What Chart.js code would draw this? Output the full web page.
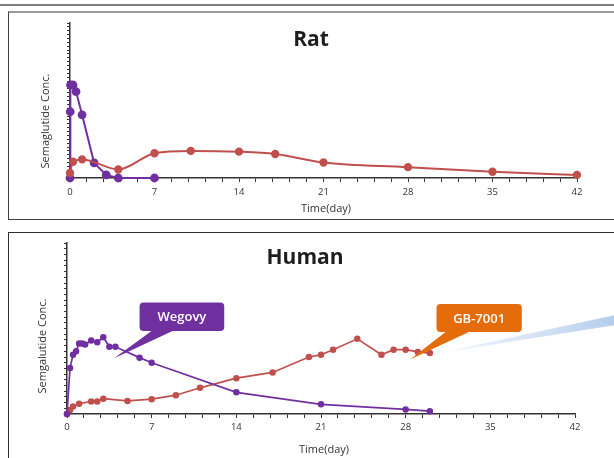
<!DOCTYPE html>
<html>
<head>
<meta charset="utf-8">
<script src="https://cdn.jsdelivr.net/npm/chart.js@4.4.1/dist/chart.umd.min.js"></script>
<style>
body{margin:0;background:#fff;width:614px;height:458px;overflow:hidden;position:relative;font-family:"Open Sans",sans-serif;}
.rule{position:absolute;left:0;top:4px;width:614px;height:2px;background:#7f7f7f;}
.panel{position:absolute;left:8px;width:640px;box-sizing:border-box;}
#p1{top:11px;height:209px;border-top:2px solid #9a9a9a;border-left:1px solid #404040;border-bottom:1px solid #404040;}
#p2{top:232px;height:240px;border-top:1px solid #303030;border-left:1px solid #303030;}
.box{position:absolute;left:9px;width:605px;}
#b1{top:12px;height:206px;}
#b2{top:233px;height:225px;}
</style>
</head>
<body>
<div class="rule"></div>
<div class="panel" id="p1"></div>
<div class="panel" id="p2"></div>
<div class="box" id="b1"><canvas id="ratChart"></canvas></div>
<div class="box" id="b2"><canvas id="humanChart"></canvas></div>
<script>
// x axis labels (days)
var dayTicks = [0, 7, 14, 21, 28, 35, 42];

// Rat
var ratWegovyDays = [0, 0.02, 0.04, 0.25, 0.5, 1, 2, 3, 4, 7];
var ratWegovyConc = [0, 17.1, 24.0, 24.0, 22.3, 16.3, 3.9, 0.8, 0, 0];
var ratGbDays = [0, 0.25, 1, 4, 7, 10, 14, 17, 21, 28, 35, 42];
var ratGbConc = [1.3, 4.2, 4.8, 2.2, 6.4, 7.0, 6.8, 6.2, 4.0, 2.8, 1.6, 0.8];

// Human
var humanWegovyDays = [0, 0.25, 0.5, 0.75, 1, 1.25, 1.5, 2, 2.5, 3, 3.5, 4, 6, 7, 14, 21, 28, 30];
var humanWegovyConc = [0, 8.1, 10.4, 11.0, 12.4, 12.4, 12.2, 12.9, 12.6, 13.5, 11.8, 11.8, 9.9, 9.0, 3.8, 1.7, 0.8, 0.5];
var humanGbDays = [0, 0.25, 0.5, 1, 2, 2.5, 3, 5, 7, 9, 11, 14, 17, 20, 21, 22, 24, 26, 27, 28, 29, 30];
var humanGbConc = [0, 0.7, 1.3, 1.8, 2.2, 2.2, 2.7, 2.3, 2.6, 3.3, 4.6, 6.3, 7.3, 10.0, 10.4, 11.3, 13.2, 10.4, 11.3, 11.3, 10.9, 10.7];

var purple = "#7030a0";
var red = "#c0504d";
var orange = "#e46c0a";

function pairs(xs, ys) {
  return xs.map(function (x, i) { return { x: x, y: ys[i] }; });
}

var textPlugin = {
  id: "texts",
  afterDatasetsDraw: function (chart, args, o) {
    var ctx = chart.ctx, xs = chart.scales.x, ys = chart.scales.y;
    ctx.save();
    if (o.wedge) {
      var w = o.wedge;
      var x0 = xs.getPixelForValue(w.from[0]), y0 = ys.getPixelForValue(w.from[1]);
      var x1 = xs.getPixelForValue(w.toX);
      var g = ctx.createLinearGradient(x0, 0, x1, 0);
      g.addColorStop(0, "rgba(198,217,241,0.2)");
      g.addColorStop(1, "rgba(180,204,236,1)");
      ctx.fillStyle = g;
      ctx.beginPath();
      ctx.moveTo(x0, y0);
      ctx.lineTo(x1, ys.getPixelForValue(w.toTop));
      ctx.lineTo(x1, ys.getPixelForValue(w.toBottom));
      ctx.closePath();
      ctx.fill();
    }
    (o.callouts || []).forEach(function (c) {
      var l = xs.getPixelForValue(c.box[0]), r = xs.getPixelForValue(c.box[1]);
      var t = ys.getPixelForValue(c.box[2]), b = ys.getPixelForValue(c.box[3]);
      ctx.fillStyle = c.color;
      ctx.beginPath();
      ctx.roundRect(l, t, r - l, b - t, 4);
      ctx.fill();
      ctx.beginPath();
      ctx.moveTo(xs.getPixelForValue(c.base[0]), b - 1);
      ctx.lineTo(xs.getPixelForValue(c.base[1]), b - 1);
      ctx.lineTo(xs.getPixelForValue(c.tip[0]), ys.getPixelForValue(c.tip[1]));
      ctx.closePath();
      ctx.fill();
      ctx.fillStyle = "#fff";
      ctx.font = "600 13px 'Open Sans'";
      ctx.textAlign = "center";
      ctx.textBaseline = "middle";
      ctx.fillText(c.text, (l + r) / 2, (t + b) / 2 + 1);
    });
    ctx.restore();
  },
  afterDraw: function (chart, args, o) {
    var ctx = chart.ctx;
    ctx.save();
    ctx.textAlign = "center";
    ctx.textBaseline = "middle";
    ctx.fillStyle = "#1e1e1e";
    ctx.font = "bold 21px 'Open Sans'";
    ctx.fillText(o.title, o.titlePos[0], o.titlePos[1]);
    ctx.fillStyle = "#333";
    ctx.font = "11px 'Open Sans'";
    ctx.fillText("Time(day)", o.xTitlePos[0], o.xTitlePos[1]);
    ctx.translate(o.yTitlePos[0], o.yTitlePos[1]);
    ctx.rotate(-Math.PI / 2);
    ctx.fillText(o.yTitle, 0, 0);
    ctx.restore();
  }
};

function makeChart(id, sets, cfg) {
  return new Chart(document.getElementById(id), {
    type: "line",
    data: { datasets: sets },
    plugins: [textPlugin],
    options: {
      responsive: true,
      maintainAspectRatio: false,
      animation: false,
      layout: { padding: { top: cfg.padTop, right: cfg.padRight, left: 0, bottom: 0 } },
      plugins: {
        legend: { display: false },
        tooltip: { enabled: false },
        texts: cfg.texts
      },
      scales: {
        x: {
          type: "linear",
          min: 0,
          max: 42,
          afterFit: function (s) { s.height = cfg.xHeight; },
          border: { color: "#333", width: 1.5 },
          grid: { drawOnChartArea: false, tickLength: 4, color: "#333" },
          ticks: {
            stepSize: 1.4,
            autoSkip: false,
            maxRotation: 0,
            padding: cfg.tickPad,
            color: "#333",
            font: { size: 9.5, family: "'Open Sans'" },
            callback: function (v) {
              return dayTicks.indexOf(Math.round(v * 10) / 10) >= 0 ? v : "";
            }
          }
        },
        y: {
          min: 0,
          max: cfg.yMax,
          afterFit: function (s) { s.width = cfg.yWidth; },
          border: { color: "#333", width: 1.5 },
          grid: { drawOnChartArea: false, tickLength: 3, color: "#333" },
          ticks: { stepSize: 1, autoSkip: false, callback: function () { return ""; } }
        }
      }
    }
  });
}

function series(data, color, radius, width, smooth) {
  return {
    data: data,
    borderColor: color,
    backgroundColor: color,
    pointBackgroundColor: color,
    pointBorderColor: color,
    pointRadius: radius,
    borderWidth: width,
    cubicInterpolationMode: smooth ? "monotone" : "default",
    tension: 0,
    clip: false
  };
}

makeChart("ratChart", [
  series(pairs(ratGbDays, ratGbConc), red, 3.2, 2, true),
  series(pairs(ratWegovyDays, ratWegovyConc), purple, 3.4, 2, false)
], {
  padTop: 11, padRight: 37, yWidth: 61, xHeight: 40, tickPad: 5, yMax: 40,
  texts: {
    title: "Rat", titlePos: [302, 28],
    yTitle: "Semaglutide Conc.", yTitlePos: [37, 109],
    xTitlePos: [317, 197]
  }
});

makeChart("humanChart", [
  series(pairs(humanWegovyDays, humanWegovyConc), purple, 2.4, 1.7, false),
  series(pairs(humanGbDays, humanGbConc), red, 2.4, 1.7, false)
], {
  padTop: 10, padRight: 39, yWidth: 58, xHeight: 44, tickPad: 4, yMax: 30,
  texts: {
    title: "Human", titlePos: [296, 25],
    yTitle: "Semgalutide Conc.", yTitlePos: [34, 113],
    xTitlePos: [315, 217],
    wedge: { from: [30.8, 10.7], toX: 45.3, toTop: 17.4, toBottom: 15.6 },
    callouts: [
      { text: "Wegovy", color: purple, box: [6.0, 13.0, 19.6, 14.6], base: [7.1, 8.9], tip: [3.9, 9.8] },
      { text: "GB-7001", color: orange, box: [30.55, 37.6, 19.3, 14.4], base: [31.4, 33.4], tip: [28.4, 9.6] }
    ]
  }
});
</script>
</body>
</html>
